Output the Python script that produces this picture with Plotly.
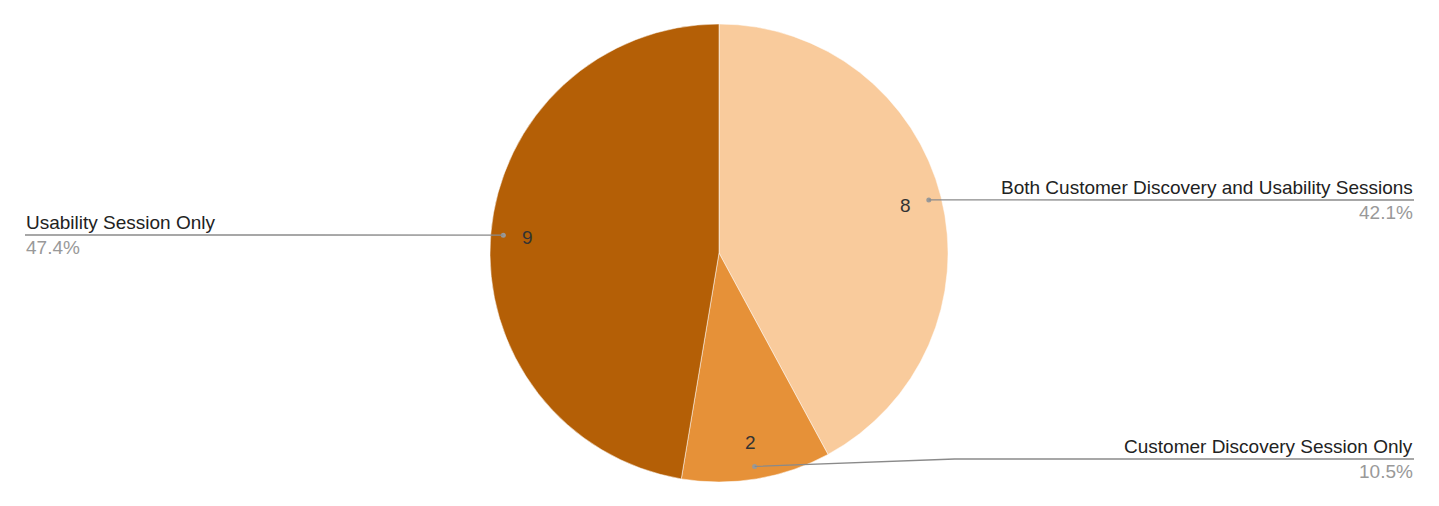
import math
import plotly.graph_objects as go

labels = ["Both Customer Discovery and Usability Sessions", "Customer Discovery Session Only", "Usability Session Only"]
values = [8, 2, 9]
colors = ["#F9CB9C", "#E69138", "#B45F06"]

W, H = 1439, 506
OFF = 8  # page body margin offset
cx, cy, R = 719, 253, 229

def px(x):
    return (x - OFF) / W

def py(y):
    return 1 - (y - OFF) / H

FONT = "Liberation Sans, Arial, sans-serif"

fig = go.Figure(go.Pie(
    labels=labels, values=values, sort=False, direction="clockwise", rotation=0,
    marker=dict(colors=colors, line=dict(color="white", width=0.5)),
    textinfo="none", hoverinfo="label+value+percent", showlegend=False,
    domain=dict(x=[px(cx - R), px(cx + R)], y=[py(cy + R), py(cy - R)]),
))

total = sum(values)
shapes, annotations = [], []
label_line_y = [200, 459, 235]
side = [1, 1, -1]
right_edge, left_edge = 1414, 25
cum = 0
for i, v in enumerate(values):
    mid = (cum + v / 2) / total
    cum += v
    th = 2 * math.pi * mid
    s, c = math.sin(th), math.cos(th)
    vx, vy = cx + 0.84 * R * s, cy - 0.84 * R * c
    annotations.append(dict(x=px(vx), y=py(vy), xref="paper", yref="paper", text=str(v),
                            xanchor="center", yanchor="middle",
                            showarrow=False, font=dict(size=19, color="#333333", family=FONT)))
    dx, dy = cx + 0.945 * R * s, cy - 0.945 * R * c
    shapes.append(dict(type="circle", xref="paper", yref="paper",
                       x0=px(dx - 2.5), x1=px(dx + 2.5), y0=py(dy + 2.5), y1=py(dy - 2.5),
                       fillcolor="#999999", line=dict(width=0)))
    ly = label_line_y[i]
    end = right_edge if side[i] > 0 else left_edge
    elbow = dx + 200 * side[i]
    path = f"M {px(dx)} {py(dy)} L {px(elbow)} {py(ly)} L {px(end)} {py(ly)}"
    shapes.append(dict(type="path", xref="paper", yref="paper", path=path,
                       line=dict(color="#8a8a8a", width=1.3)))
    xanchor = "right" if side[i] > 0 else "left"
    annotations.append(dict(x=px(end), y=py(ly - 1), xref="paper", yref="paper",
                            text=labels[i], showarrow=False, xanchor=xanchor, yanchor="bottom",
                            borderpad=0, font=dict(size=19, color="#222222", family=FONT)))
    pct = f"{100 * v / total:.1f}%"
    annotations.append(dict(x=px(end), y=py(ly + 1), xref="paper", yref="paper",
                            text=pct, showarrow=False, xanchor=xanchor, yanchor="top",
                            borderpad=0, font=dict(size=19, color="#999999", family=FONT)))

fig.update_layout(width=W, height=H, margin=dict(l=0, r=0, t=0, b=0),
                  paper_bgcolor="white", plot_bgcolor="white",
                  shapes=shapes, annotations=annotations)
fig.write_html("out.html")
